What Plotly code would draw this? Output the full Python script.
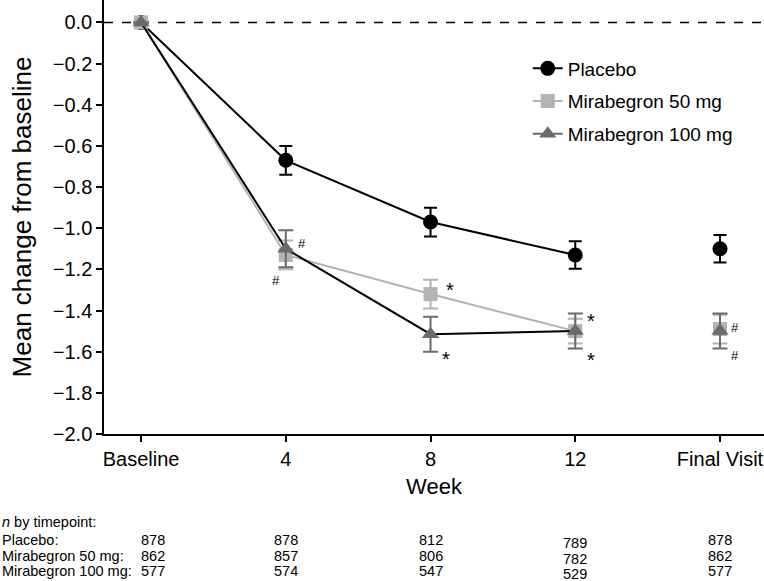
import plotly.graph_objects as go

timepoints = ["Baseline", "4", "8", "12", "Final Visit"]
xpos = [0, 1, 2, 3, 4]

placebo = [0.0, -0.67, -0.97, -1.13, -1.10]
placebo_se = [0.0, 0.07, 0.07, 0.067, 0.067]
mira50 = [0.0, -1.13, -1.32, -1.50, -1.49]
mira50_se = [0.0, 0.07, 0.07, 0.06, 0.07]
mira100 = [0.0, -1.10, -1.515, -1.50, -1.50]
mira100_se = [0.0, 0.09, 0.085, 0.085, 0.085]

n_placebo = [878, 878, 812, 789, 878]
n_m50 = [862, 857, 806, 782, 862]
n_m100 = [577, 574, 547, 529, 577]

BLACK = "#000000"
LIGHT = "#b3b3b3"
DARK = "#6b6b6b"
FONT = "Liberation Sans, Arial, sans-serif"

fig = go.Figure()

# Placebo (line + markers)
fig.add_trace(go.Scatter(
    x=xpos[:4], y=placebo[:4], mode="lines", line=dict(color=BLACK, width=2),
    showlegend=False, hoverinfo="skip"))
fig.add_trace(go.Scatter(
    x=xpos, y=placebo, mode="markers",
    marker=dict(symbol="circle", size=15, color=BLACK),
    error_y=dict(type="data", array=placebo_se, color=BLACK, thickness=2, width=6.5),
    showlegend=False))

# Mirabegron 50
fig.add_trace(go.Scatter(
    x=xpos[:4], y=mira50[:4], mode="lines", line=dict(color=LIGHT, width=2),
    showlegend=False, hoverinfo="skip"))
fig.add_trace(go.Scatter(
    x=xpos, y=mira50, mode="markers",
    marker=dict(symbol="square", size=14, color=LIGHT),
    error_y=dict(type="data", array=mira50_se, color=LIGHT, thickness=2, width=7.5),
    showlegend=False))

# Mirabegron 100
fig.add_trace(go.Scatter(
    x=xpos[:4], y=mira100[:4], mode="lines", line=dict(color=BLACK, width=2),
    showlegend=False, hoverinfo="skip"))
fig.add_trace(go.Scatter(
    x=xpos, y=mira100, mode="markers",
    marker=dict(symbol="triangle-up", size=15, color=DARK),
    error_y=dict(type="data", array=mira100_se, color=DARK, thickness=2, width=7.5),
    showlegend=False))

# Legend-only traces
for name, sym, col, sz in [("Placebo", "circle", BLACK, 15),
                           ("Mirabegron 50 mg", "square", LIGHT, 14),
                           ("Mirabegron 100 mg", "triangle-up", DARK, 15)]:
    fig.add_trace(go.Scatter(
        x=[None], y=[None], mode="lines+markers", name=name,
        line=dict(color=col, width=2),
        marker=dict(symbol=sym, size=sz, color=col), legendgroup=name))

# Zero reference line
fig.add_shape(type="line", xref="paper", yref="y", x0=0, x1=1, y0=0, y1=0,
              line=dict(color=BLACK, width=1.5, dash="dash"), layer="below")

# Significance marks
sig = [
    ("#", 1.112, -1.075, 13), ("#", 0.933, -1.255, 13),
    ("*", 2.135, -1.30, 20), ("*", 2.107, -1.635, 20),
    ("*", 3.109, -1.45, 20), ("*", 3.109, -1.64, 20),
    ("#", 4.104, -1.483, 13), ("#", 4.104, -1.619, 13),
]
annotations = []
for txt, ax_, ay_, sz in sig:
    annotations.append(dict(text=txt, x=ax_, y=ay_, xref="x", yref="y",
                            showarrow=False, font=dict(size=sz, color=BLACK, family=FONT)))

# n-by-timepoint table
PH = 434.0
def ypaper(py):
    return (PH - py) / PH

TF = 14.5
annotations.append(dict(text="<i>n</i> by timepoint:", x=-104 / 660, y=ypaper(522),
                        xref="paper", yref="paper", xanchor="left", yanchor="middle",
                        showarrow=False, font=dict(size=TF, color=BLACK, family=FONT)))
rows = [("Placebo:", n_placebo, 540), ("Mirabegron 50 mg:", n_m50, 556),
        ("Mirabegron 100 mg:", n_m100, 571)]
colx = [0.085, 1, 2, 3, 4]
for label, vals, py in rows:
    annotations.append(dict(text=label, x=-104 / 660, y=ypaper(py), xref="paper", yref="paper",
                            xanchor="left", yanchor="middle", showarrow=False,
                            font=dict(size=TF, color=BLACK, family=FONT)))
    for i, v in enumerate(vals):
        off = 2.5 if i == 3 else 0
        annotations.append(dict(text=str(v), x=colx[i], y=ypaper(py + off), xref="x", yref="paper",
                                xanchor="center", yanchor="middle", showarrow=False,
                                font=dict(size=TF, color=BLACK, family=FONT)))

fig.update_layout(
    width=764, height=581,
    margin=dict(l=104, r=0, t=0, b=147),
    paper_bgcolor="white", plot_bgcolor="white",
    font=dict(family=FONT, size=16, color=BLACK),
    showlegend=True,
    legend=dict(x=0.642, y=0.886, xanchor="left", yanchor="top",
                bgcolor="rgba(0,0,0,0)", font=dict(size=19, family=FONT),
                itemwidth=30, tracegroupgap=5),
    xaxis=dict(range=[-0.256, 4.304], tickvals=xpos, ticktext=timepoints,
               showline=True, linecolor=BLACK, linewidth=1.5, ticks="outside",
               ticklen=6, tickwidth=1.5, tickcolor=BLACK, showgrid=False, zeroline=False,
               tickfont=dict(size=20), automargin=False,
               title=dict(text="Week", font=dict(size=22), standoff=10)),
    yaxis=dict(range=[-2.0, 0.109], tickvals=[0, -0.2, -0.4, -0.6, -0.8, -1.0, -1.2, -1.4, -1.6, -1.8, -2.0],
               ticktext=["0.0", "\u22120.2", "\u22120.4", "\u22120.6", "\u22120.8", "\u22121.0",
                         "\u22121.2", "\u22121.4", "\u22121.6", "\u22121.8", "\u22122.0"],
               showline=True, linecolor=BLACK, linewidth=1.5, ticks="outside",
               ticklen=6, tickwidth=1.5, tickcolor=BLACK, showgrid=False, zeroline=False,
               tickfont=dict(size=20), automargin=False,
               title=dict(text="Mean change from baseline", font=dict(size=26), standoff=14)),
    annotations=annotations,
)

fig.write_html("out.html", config={"displayModeBar": False},
               post_script="document.body.style.margin='0';document.body.style.overflow='hidden';")
